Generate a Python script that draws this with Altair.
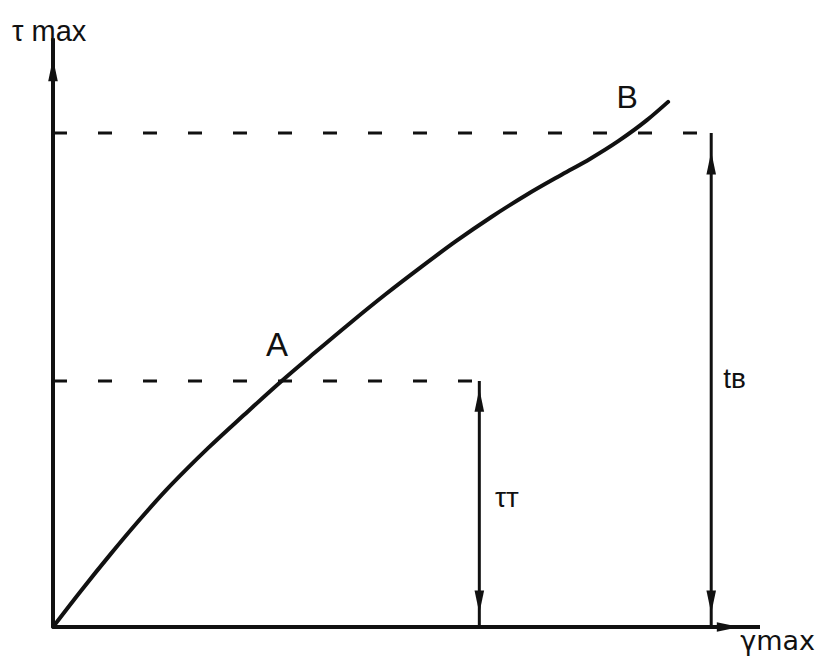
import altair as alt
import pandas as pd

# --- curve tau_max(gamma_max) (arbitrary units) ---
gamma_max = [0, 4, 8, 12, 16, 19, 22, 27, 32.5, 37, 42, 47, 52, 57, 62,
             67, 72, 76, 80, 84, 87]
tau_max = [0, 7.4, 14.5, 21.3, 27.7, 32.1, 36.3, 42.9, 50.0, 55.5, 61.5,
           67.3, 72.8, 78.1, 83.0, 87.5, 91.6, 94.8, 98.4, 102.6, 106.3]

# --- characteristic levels ---
tau_T = 49.8          # yield level (point A)
tau_B = 100.0         # strength level (point B)
gamma_T_arrow = 60.3  # where the tau_T dimension arrow stands
gamma_B_arrow = 93.1  # where the t_B dimension arrow stands
x_axis_end = 100.0
y_axis_end = 119.2

# --- labels ---
label_text = ["τ max", "γmax", "A", "B", "τт", "tв"]
label_x = [-5.8, 97.2, 31.7, 81.2, 62.5, 94.8]
label_y = [120.4, -3.0, 56.9, 107.1, 25.9, 50.0]

INK = "#111111"
xs = alt.Scale(domain=[0, 100], nice=False, zero=False)
ys = alt.Scale(domain=[0, 100], nice=False, zero=False)

def X(f):
    return alt.X(f, type="quantitative", scale=xs, axis=None)

def Y(f):
    return alt.Y(f, type="quantitative", scale=ys, axis=None)

curve_df = pd.DataFrame({"g": gamma_max, "t": tau_max})
curve = alt.Chart(curve_df).mark_line(
    color=INK, strokeWidth=4, interpolate="monotone", strokeCap="round"
).encode(x=X("g"), y=Y("t"))

axes_df = pd.DataFrame({
    "x": [0, 0], "y": [0, 0], "x2": [0, x_axis_end], "y2": [y_axis_end, 0]
})
axes = alt.Chart(axes_df).mark_rule(color=INK, strokeWidth=4).encode(
    x=X("x"), y=Y("y"), x2="x2:Q", y2="y2:Q"
)

dims_df = pd.DataFrame({
    "x": [gamma_T_arrow, gamma_B_arrow], "y": [0, 0],
    "x2": [gamma_T_arrow, gamma_B_arrow], "y2": [tau_T, tau_B]
})
dims = alt.Chart(dims_df).mark_rule(color=INK, strokeWidth=3).encode(
    x=X("x"), y=Y("y"), x2="x2:Q", y2="y2:Q"
)

dash_df = pd.DataFrame({
    "x": [0, 0], "y": [tau_T, tau_B],
    "x2": [gamma_T_arrow, gamma_B_arrow], "y2": [tau_T, tau_B]
})
dashes = alt.Chart(dash_df).mark_rule(
    color=INK, strokeWidth=3, strokeDash=[14, 31]
).encode(x=X("x"), y=Y("y"), x2="x2:Q", y2="y2:Q")

heads_df = pd.DataFrame({
    "x": [0, x_axis_end - 4.5, gamma_B_arrow, gamma_B_arrow, gamma_T_arrow, gamma_T_arrow],
    "y": [y_axis_end - 6.4, 0, tau_B - 6.1, 5.1, tau_T - 3.9, 5.1],
    "a": [0, 90, 0, 180, 0, 180],
})
heads = alt.Chart(heads_df).mark_point(
    shape="M0,-1L0.42,1L-0.42,1Z", filled=True, size=520, color=INK, opacity=1
).encode(x=X("x"), y=Y("y"), angle=alt.Angle("a:Q", scale=None))

lab_df = pd.DataFrame({"text": label_text, "x": label_x, "y": label_y})

def lab(idx, size, align="left", font="Liberation Sans"):
    return alt.Chart(lab_df.iloc[idx:idx + 1]).mark_text(
        color=INK, fontSize=size, align=align, baseline="middle", font=font
    ).encode(x=X("x"), y=Y("y"), text="text:N")

labels = [
    lab(0, 29),
    lab(1, 27, font="DejaVu Sans"),
    lab(2, 33, align="center"),
    lab(3, 32, align="center"),
    lab(4, 28),
    lab(5, 28),
]

chart = alt.layer(dashes, dims, axes, curve, heads, *labels).properties(
    width=707, height=494,
    background="white",
    padding={"left": 45, "top": 125, "right": 68, "bottom": 29},
    autosize=alt.AutoSizeParams(type="none"),
).configure_view(stroke="transparent", strokeWidth=0)

chart.save("out.html", embed_options={"renderer": "svg", "actions": False})
